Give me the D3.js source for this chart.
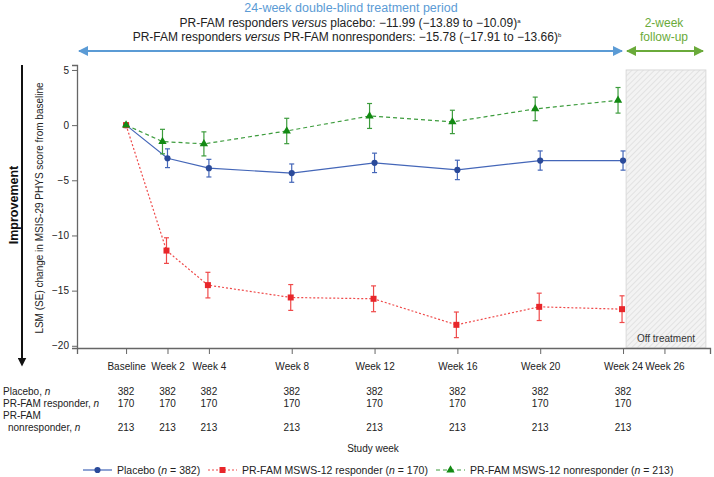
<!DOCTYPE html>
<html>
<head>
<meta charset="utf-8">
<script src="https://cdn.jsdelivr.net/npm/d3@7"></script>
<style>
  body { margin: 0; background: #fff; }
  svg { font-family: "Liberation Sans", Arial, sans-serif; }
  .axis text { font-size: 10px; fill: #222; }
  .axis path, .axis line { stroke: #666; }
</style>
</head>
<body>
<div id="chart"></div>
<script>
const width = 714,
  height = 477;

// DATA
const weeks = [0, 2, 4, 8, 12, 16, 20, 24];
const tickWeeks = [0, 2, 4, 8, 12, 16, 20, 24, 26];
const tickLabels = ["Baseline", "Week 2", "Week 4", "Week 8", "Week 12", "Week 16", "Week 20", "Week 24", "Week 26"];

const placeboMean = [0, -3.0, -3.9, -4.35, -3.42, -4.06, -3.21, -3.21];
const placeboSE = [0, 0.85, 0.8, 0.83, 0.88, 0.88, 0.87, 0.87];
const responderMean = [0, -11.37, -14.5, -15.62, -15.74, -18.1, -16.47, -16.68];
const responderSE = [0, 1.16, 1.16, 1.17, 1.17, 1.16, 1.24, 1.21];
const nonresponderMean = [0, -1.49, -1.7, -0.53, 0.83, 0.29, 1.47, 2.25];
const nonresponderSE = [0, 1.11, 1.09, 1.15, 1.13, 1.06, 1.07, 1.16];

const placeboN = [382, 382, 382, 382, 382, 382, 382, 382];
const responderN = [170, 170, 170, 170, 170, 170, 170, 170];
const nonresponderN = [213, 213, 213, 213, 213, 213, 213, 213];

const series = [
  { name: "Placebo", n: 382, mean: placeboMean, se: placeboSE, color: "#4466b8", mark: "#2a4a9a",
    dash: null, symbol: d3.symbolCircle, size: 30, dx: 0 },
  { name: "PR-FAM MSWS-12 responder", n: 170, mean: responderMean, se: responderSE, color: "#ef4a4a", mark: "#e8262a",
    dash: "2,2", symbol: d3.symbolSquare, size: 36, dx: -1 },
  { name: "PR-FAM MSWS-12 nonresponder", n: 213, mean: nonresponderMean, se: nonresponderSE, color: "#3d9c3d", mark: "#138a13",
    dash: "4,3", symbol: d3.symbolTriangle, size: 30, dx: -5 }
];

const svg = d3.select("#chart")
  .append("svg")
  .attr("width", width)
  .attr("height", height);

// SCALES
const xScale = d3.scaleLinear().domain([-2.37, 28.2]).range([77, 710]);
const yScale = d3.scaleLinear().domain([-20.2, 5.45]).range([348, 65]);

// hatch pattern for off treatment
const defs = svg.append("defs");
const pat = defs.append("pattern")
  .attr("id", "hatch")
  .attr("patternUnits", "userSpaceOnUse")
  .attr("width", 4)
  .attr("height", 4)
  .attr("patternTransform", "rotate(-45)");
pat.append("rect").attr("width", 4).attr("height", 4).attr("fill", "#f3f3f3");
pat.append("line").attr("x1", 0).attr("y1", 0).attr("x2", 4).attr("y2", 0)
  .attr("stroke", "#d8d8d8").attr("stroke-width", 1.2);

svg.append("rect")
  .attr("x", xScale(24.15))
  .attr("y", yScale(5))
  .attr("width", xScale(28) - xScale(24.15))
  .attr("height", yScale(-20.2) - yScale(5))
  .attr("fill", "url(#hatch)")
  .attr("stroke", "#d9d9d9");

svg.append("text")
  .attr("x", (xScale(24.15) + xScale(28)) / 2)
  .attr("y", 342)
  .attr("text-anchor", "middle")
  .attr("font-size", 10)
  .attr("fill", "#333")
  .text("Off treatment");

// AXES
svg.append("g")
  .attr("class", "axis x-axis")
  .attr("transform", `translate(0,${yScale(-20.2)})`)
  .call(d3.axisBottom(xScale)
    .tickValues(tickWeeks)
    .tickFormat((d, i) => tickLabels[i])
    .tickSizeOuter(0)
    .tickSize(6)
    .tickPadding(9));

svg.append("g")
  .attr("class", "axis y-axis")
  .attr("transform", `translate(${xScale(-2.37)},0)`)
  .call(d3.axisLeft(yScale)
    .tickValues([5, 0, -5, -10, -15, -20])
    .tickSizeOuter(0)
    .tickSize(5)
    .tickPadding(3));

svg.selectAll(".axis .domain").attr("stroke-width", 1.3);

// y label
svg.append("text")
  .attr("transform", `translate(43,208) rotate(-90)`)
  .attr("text-anchor", "middle")
  .attr("font-size", 10)
  .attr("fill", "#222")
  .text("LSM (SE) change in MSIS-29 PHYS score from baseline");

svg.append("text")
  .attr("transform", `translate(18,205) rotate(-90)`)
  .attr("text-anchor", "middle")
  .attr("font-size", 12.5)
  .attr("font-weight", "bold")
  .attr("fill", "#111")
  .text("Improvement");

// improvement arrow
defs.append("marker")
  .attr("id", "arrowDown")
  .attr("viewBox", "0 0 10 10")
  .attr("refX", 5).attr("refY", 5)
  .attr("markerWidth", 4.5).attr("markerHeight", 4.5)
  .attr("orient", "auto")
  .append("path").attr("d", "M0,0L10,5L0,10Z").attr("fill", "#111");

svg.append("line")
  .attr("x1", 22).attr("x2", 22)
  .attr("y1", 65).attr("y2", 362)
  .attr("stroke", "#111").attr("stroke-width", 2)
  .attr("marker-end", "url(#arrowDown)");

// period arrows
function arrowHead(id, color) {
  defs.append("marker")
    .attr("id", id)
    .attr("viewBox", "0 0 10 10")
    .attr("refX", 9).attr("refY", 5)
    .attr("markerWidth", 5).attr("markerHeight", 5)
    .attr("orient", "auto-start-reverse")
    .append("path").attr("d", "M0,0L10,5L0,10Z").attr("fill", color);
}
arrowHead("arrBlue", "#5b9bd5");
arrowHead("arrGreen", "#6aaa3a");

svg.append("line")
  .attr("x1", 79).attr("x2", 622).attr("y1", 51).attr("y2", 51)
  .attr("stroke", "#5b9bd5").attr("stroke-width", 2)
  .attr("marker-start", "url(#arrBlue)").attr("marker-end", "url(#arrBlue)");

svg.append("line")
  .attr("x1", 627).attr("x2", 703).attr("y1", 51).attr("y2", 51)
  .attr("stroke", "#6aaa3a").attr("stroke-width", 2)
  .attr("marker-start", "url(#arrGreen)").attr("marker-end", "url(#arrGreen)");

svg.append("text")
  .attr("x", 351).attr("y", 12)
  .attr("text-anchor", "middle")
  .attr("font-size", 12.5)
  .attr("fill", "#5b9bd5")
  .text("24-week double-blind treatment period");

const line2 = svg.append("text")
  .attr("x", 350).attr("y", 27)
  .attr("text-anchor", "middle")
  .attr("font-size", 12)
  .attr("fill", "#222");
line2.append("tspan").text("PR-FAM responders ");
line2.append("tspan").attr("font-style", "italic").text("versus");
line2.append("tspan").text(" placebo: \u221211.99 (\u221213.89 to \u221210.09)");
line2.append("tspan").attr("font-size", 6).attr("dy", -4).text("a");

const line3 = svg.append("text")
  .attr("x", 347).attr("y", 40.5)
  .attr("text-anchor", "middle")
  .attr("font-size", 12)
  .attr("fill", "#222");
line3.append("tspan").text("PR-FAM responders ");
line3.append("tspan").attr("font-style", "italic").text("versus");
line3.append("tspan").text(" PR-FAM nonresponders: \u221215.78 (\u221217.91 to \u221213.66)");
line3.append("tspan").attr("font-size", 6).attr("dy", -4).text("b");

svg.append("text")
  .attr("x", 664).attr("y", 27)
  .attr("text-anchor", "middle")
  .attr("font-size", 12)
  .attr("fill", "#6aaa3a")
  .text("2-week");
svg.append("text")
  .attr("x", 664).attr("y", 40.5)
  .attr("text-anchor", "middle")
  .attr("font-size", 12)
  .attr("fill", "#6aaa3a")
  .text("follow-up");

// SERIES
const line = d3.line()
  .x(d => d.x)
  .y(d => yScale(d.v));

series.forEach(s => {
  const pts = weeks.map((w, i) => ({ x: xScale(w) + (i === 0 ? 0 : s.dx), v: s.mean[i], se: s.se[i] }));
  const g = svg.append("g");

  g.append("path")
    .datum(pts)
    .attr("d", line)
    .attr("fill", "none")
    .attr("stroke", s.color)
    .attr("stroke-width", 1.2)
    .attr("stroke-dasharray", s.dash);

  const eb = g.selectAll(".eb")
    .data(pts.filter(d => d.se > 0))
    .join("g")
    .attr("stroke", s.color)
    .attr("stroke-width", 1.2);
  eb.append("line")
    .attr("x1", d => d.x).attr("x2", d => d.x)
    .attr("y1", d => yScale(d.v + d.se)).attr("y2", d => yScale(d.v - d.se));
  eb.append("line")
    .attr("x1", d => d.x - 2.5).attr("x2", d => d.x + 2.5)
    .attr("y1", d => yScale(d.v + d.se)).attr("y2", d => yScale(d.v + d.se));
  eb.append("line")
    .attr("x1", d => d.x - 2.5).attr("x2", d => d.x + 2.5)
    .attr("y1", d => yScale(d.v - d.se)).attr("y2", d => yScale(d.v - d.se));

  g.selectAll(".pt")
    .data(pts)
    .join("path")
    .attr("transform", d => `translate(${d.x},${yScale(d.v)})`)
    .attr("d", d3.symbol().type(s.symbol).size(s.size))
    .attr("fill", s.mark);
});

// N TABLE
const rows = [
  { label: "Placebo,", y: 394.5, values: placeboN },
  { label: "PR-FAM responder,", y: 406.5, values: responderN },
  { label: "nonresponder,", y: 430.5, values: nonresponderN }
];

svg.append("text")
  .attr("x", 3).attr("y", 418.5)
  .attr("font-size", 10).attr("fill", "#222")
  .text("PR-FAM");

rows.forEach((r, ri) => {
  const t = svg.append("text")
    .attr("x", ri === 2 ? 8 : 3).attr("y", r.y)
    .attr("font-size", 10).attr("fill", "#222");
  t.append("tspan").text(r.label + " ");
  t.append("tspan").attr("font-style", "italic").text("n");

  svg.selectAll(null)
    .data(r.values)
    .join("text")
    .attr("x", (d, i) => xScale(weeks[i]))
    .attr("y", r.y)
    .attr("text-anchor", "middle")
    .attr("font-size", 10)
    .attr("fill", "#222")
    .text(d => d);
});

svg.append("text")
  .attr("x", 373).attr("y", 452)
  .attr("text-anchor", "middle")
  .attr("font-size", 10)
  .attr("fill", "#222")
  .text("Study week");

// LEGEND
const legendX = [83, 208, 436];
series.forEach((s, i) => {
  const lg = svg.append("g").attr("transform", `translate(${legendX[i]},470)`);
  lg.append("line")
    .attr("x1", 0).attr("x2", 29)
    .attr("stroke", s.color).attr("stroke-width", 1.2)
    .attr("stroke-dasharray", s.dash);
  lg.append("path")
    .attr("transform", "translate(14.5,0)")
    .attr("d", d3.symbol().type(s.symbol).size(s.size))
    .attr("fill", s.mark);
  const t = lg.append("text")
    .attr("x", 34).attr("y", 3.5)
    .attr("font-size", 10.5)
    .attr("fill", "#222");
  t.append("tspan").text(s.name + " (");
  t.append("tspan").attr("font-style", "italic").text("n");
  t.append("tspan").text(" = " + s.n + ")");
});
</script>
</body>
</html>
